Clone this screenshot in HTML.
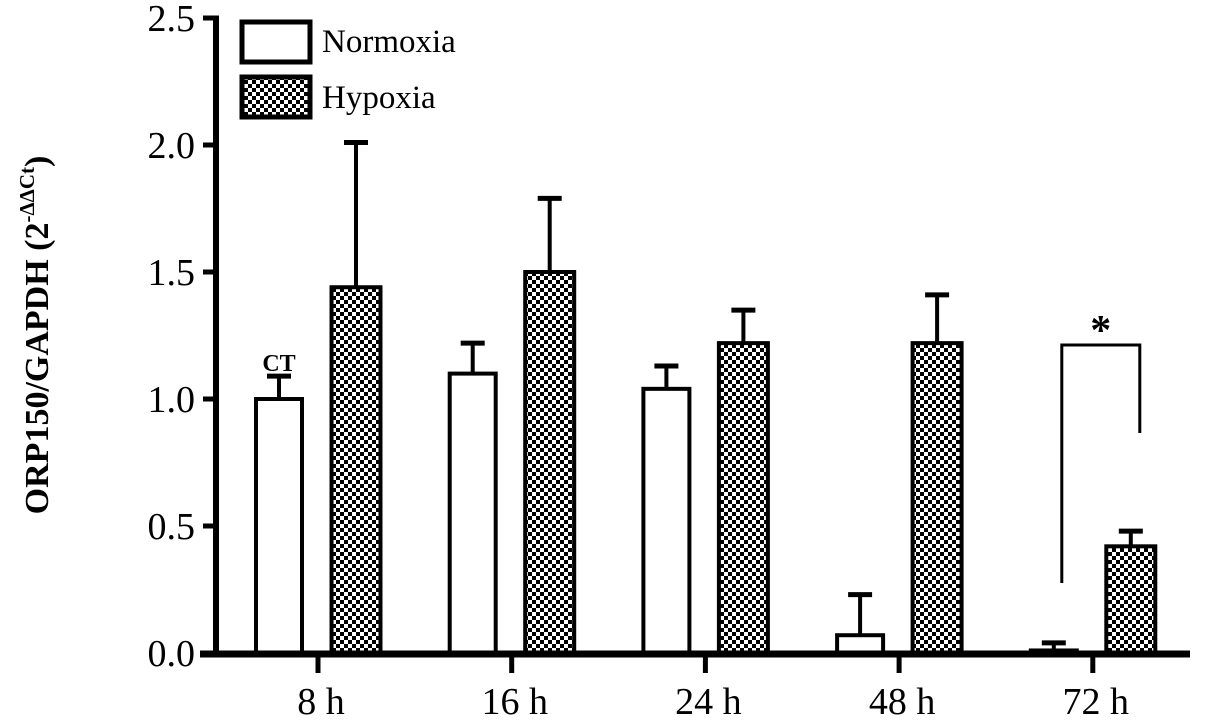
<!DOCTYPE html>
<html><head><meta charset="utf-8"><style>body{margin:0;background:#fff}svg{display:block}text{font-family:"Liberation Serif",serif;fill:#000}</style></head>
<body>
<svg id="chart" width="1205" height="721" xmlns="http://www.w3.org/2000/svg">
<defs><pattern id="chk" width="8" height="8" patternUnits="userSpaceOnUse"><rect width="8" height="8" fill="#000"/><rect width="4" height="4" fill="#fff"/><rect x="4" y="4" width="4" height="4" fill="#fff"/></pattern></defs>
<g id="plot"></g>
<text transform="translate(48,335) rotate(-90)" text-anchor="middle" font-size="34" font-weight="bold">ORP150/GAPDH (2<tspan dy="-14" font-size="21">-ΔΔCt</tspan><tspan dy="14">)</tspan></text>
<g>
<rect x="242" y="22" width="68" height="40" fill="#fff" stroke="#000" stroke-width="5"/>
<text x="322" y="52" font-size="33">Normoxia</text>
<rect x="242" y="77" width="68" height="40" fill="url(#chk)" stroke="#000" stroke-width="5"/>
<text x="322" y="108" font-size="33">Hypoxia</text>
</g>
</svg>
<script>
const categories=["8 h","16 h","24 h","48 h","72 h"];
const normoxia=[1.0,1.10,1.04,0.07,0.01];
const normoxiaErr=[0.09,0.12,0.09,0.16,0.03];
const hypoxia=[1.44,1.50,1.22,1.22,0.42];
const hypoxiaErr=[0.57,0.29,0.13,0.19,0.06];
const yTicks=["0.0","0.5","1.0","1.5","2.0","2.5"];
const NS="http://www.w3.org/2000/svg";
const g=document.getElementById('plot');
const y=v=>653-v*254;
const xc=i=>318+i*193.7;
function el(t,a){const e=document.createElementNS(NS,t);for(const k in a)e.setAttribute(k,a[k]);g.appendChild(e);return e;}
yTicks.forEach(t=>{const v=parseFloat(t);
const tk=el('line',{x1:203,x2:218,y1:y(v),y2:y(v),stroke:'#000','stroke-width':5});


const tx=el('text',{x:195,y:y(v)+13,'text-anchor':'end','font-size':38});tx.textContent=t;


});
function bar(cx,w,v,e,fill,name){
const top=y(v+e);
const eb=el('line',{x1:cx,x2:cx,y1:y(v),y2:top,stroke:'#000','stroke-width':4});


const cap=el('line',{x1:cx-12,x2:cx+12,y1:top,y2:top,stroke:'#000','stroke-width':5});


const r=el('rect',{x:cx-w/2,y:y(v),width:w,height:Math.max(653-y(v),0.5),fill:fill,stroke:'#000','stroke-width':4});


}
categories.forEach((c,i)=>{
bar(xc(i)-39,46,normoxia[i],normoxiaErr[i],'#fff','bar-normoxia-'+i);
bar(xc(i)+38,49,hypoxia[i],hypoxiaErr[i],'url(#chk)','bar-hypoxia-'+i);
const tk=el('line',{x1:xc(i),x2:xc(i),y1:653,y2:673,stroke:'#000','stroke-width':5});


const tx=el('text',{x:xc(i)+3,y:714,'text-anchor':'middle','font-size':38});tx.textContent=c;


});
const ya=el('line',{x1:216,x2:216,y1:16,y2:656,stroke:'#000','stroke-width':6});


const yc=el('line',{x1:203,x2:219,y1:18,y2:18,stroke:'#000','stroke-width':5});


const xa=el('line',{x1:200,x2:1190,y1:654,y2:654,stroke:'#000','stroke-width':7});


const ct=el('text',{x:xc(0)-39,y:371,'text-anchor':'middle','font-size':24,'font-weight':'bold'});ct.textContent='CT';


const br=el('polyline',{points:`${xc(4)-31},583 ${xc(4)-31},345 ${xc(4)+47},345 ${xc(4)+47},433`,fill:'none',stroke:'#000','stroke-width':3});


const st=el('text',{x:xc(4)+8,y:344,'text-anchor':'middle','font-size':42,'font-weight':'bold'});st.textContent='*';


</script>
</body></html>
